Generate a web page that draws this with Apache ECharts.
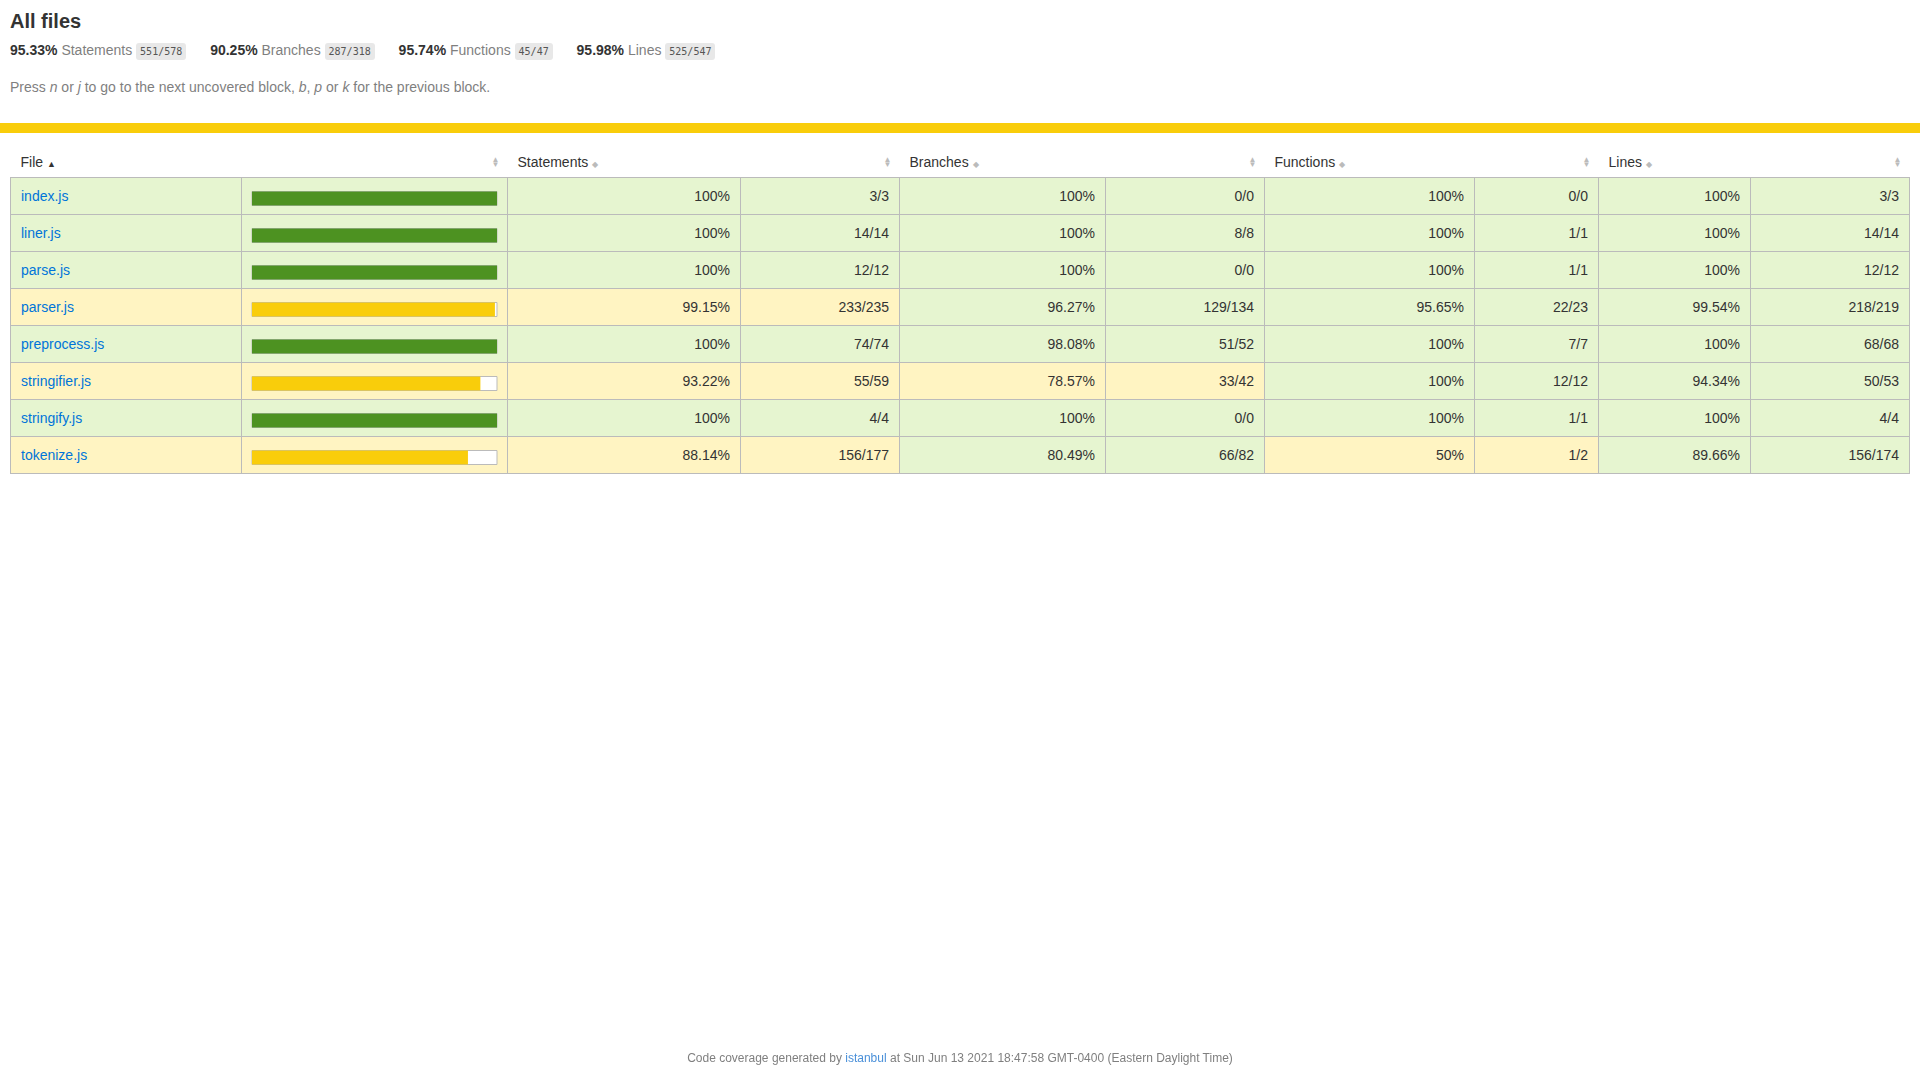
<!DOCTYPE html>
<html><head><meta charset="utf-8">
<script src="https://cdn.jsdelivr.net/npm/echarts@6/dist/echarts.min.js"></script>
<style>
body{margin:0;padding:0 10px;font-family:"Liberation Sans",Arial,sans-serif;font-size:14px;color:#333;width:1900px;height:1080px;position:relative;overflow:hidden}
h1{font-size:20px;margin:10px 0 0 0;height:22px;line-height:22px}
.sum{margin-top:9px;height:18px;line-height:18px;white-space:nowrap}
.sum span.g{margin-right:20px}
.quiet{color:#7f7f7f}
.fr{font-family:"DejaVu Sans Mono",monospace;font-size:10px;background:#e8e8e8;padding:3px 4px;border-radius:3px;color:#555}
.help{margin-top:20px;color:#7f7f7f}
.band{position:absolute;left:0;right:0;top:123px;height:10px;background:#f9cd0b}
table{position:absolute;left:10px;top:146px;border-collapse:collapse;font-size:14px;table-layout:fixed;width:1899px}
th{height:31px;font-weight:normal;text-align:left;padding:0 10px;position:relative;vertical-align:middle}
th .s{position:absolute;right:8px;top:11px;color:#bbb;font-size:8px;line-height:5px}
td{height:36px;border:1px solid #bbb;padding:0 10px;text-align:right}
td.f{text-align:left}
a{color:#0074d9;text-decoration:none}
.high{background:#e6f5d0}.medium{background:#fff4c2}
#chart{position:absolute;left:0;top:0;width:1920px;height:1080px;pointer-events:none}
.foot{position:absolute;left:0;width:1920px;top:1051px;text-align:center;font-size:12px;color:#7f7f7f}
</style></head><body>
<h1>All files</h1>
<div class="sum">
<span class="g"><b>95.33%</b> <span class="quiet">Statements</span> <span class="fr">551/578</span></span>
<span class="g"><b>90.25%</b> <span class="quiet">Branches</span> <span class="fr">287/318</span></span>
<span class="g"><b>95.74%</b> <span class="quiet">Functions</span> <span class="fr">45/47</span></span>
<span class="g"><b>95.98%</b> <span class="quiet">Lines</span> <span class="fr">525/547</span></span>
</div>
<div class="help">Press <i>n</i> or <i>j</i> to go to the next uncovered block, <i>b</i>, <i>p</i> or <i>k</i> for the previous block.</div>
<div class="band"></div>
<table id="tbl"></table>
<div id="chart"></div>
<div class="foot">Code coverage generated by <a href="#" style="color:#4a90d9">istanbul</a> at Sun Jun 13 2021 18:47:58 GMT-0400 (Eastern Daylight Time)</div>
<script>
const files = ['index.js','liner.js','parse.js','parser.js','preprocess.js','stringifier.js','stringify.js','tokenize.js'];
const stmtPct = [100,100,100,99.15,100,93.22,100,88.14];
const stmtFrac = ['3/3','14/14','12/12','233/235','74/74','55/59','4/4','156/177'];
const branchPct = [100,100,100,96.27,98.08,78.57,100,80.49];
const branchFrac = ['0/0','8/8','0/0','129/134','51/52','33/42','0/0','66/82'];
const funcPct = [100,100,100,95.65,100,100,100,50];
const funcFrac = ['0/0','1/1','1/1','22/23','7/7','12/12','1/1','1/2'];
const linePct = [100,100,100,99.54,100,94.34,100,89.66];
const lineFrac = ['3/3','14/14','12/12','218/219','68/68','50/53','4/4','156/174'];
// coverage class per cell
const stmtCls = ['high','high','high','medium','high','medium','high','medium'];
const branchCls = ['high','high','high','high','high','medium','high','high'];
const funcCls = ['high','high','high','high','high','high','high','medium'];
const lineCls = ['high','high','high','high','high','high','high','high'];

const widths = [231,266,233,159,206,159,210,124,152,159];
const arrows = '<span class="s">▲<br>▼</span>';
let html = '<colgroup>' + widths.map(w => '<col style="width:' + w + 'px">').join('') + '</colgroup>';
html += '<tr><th>File <span style="font-size:9px">▲</span></th><th>' + arrows + '</th>' +
  ['Statements','','Branches','','Functions','','Lines',''].map(t =>
    '<th>' + (t ? t + ' <span style="color:#bbb;font-size:8px">◆</span>' : arrows) + '</th>').join('') + '</tr>';
files.forEach((f, i) => {
  html += '<tr><td class="f ' + stmtCls[i] + '"><a href="#">' + f + '</a></td><td class="' + stmtCls[i] + '"></td>' +
    '<td class="' + stmtCls[i] + '">' + stmtPct[i] + '%</td><td class="' + stmtCls[i] + '">' + stmtFrac[i] + '</td>' +
    '<td class="' + branchCls[i] + '">' + branchPct[i] + '%</td><td class="' + branchCls[i] + '">' + branchFrac[i] + '</td>' +
    '<td class="' + funcCls[i] + '">' + funcPct[i] + '%</td><td class="' + funcCls[i] + '">' + funcFrac[i] + '</td>' +
    '<td class="' + lineCls[i] + '">' + linePct[i] + '%</td><td class="' + lineCls[i] + '">' + lineFrac[i] + '</td></tr>';
});
document.getElementById('tbl').innerHTML = html;

const chart = echarts.init(document.getElementById('chart'));
chart.setOption({
  animation: false,
  grid: {left: 252, width: 245, top: 180, height: 8 * 37},
  xAxis: {type: 'value', min: 0, max: 100, show: false},
  yAxis: {type: 'category', data: files, inverse: true, show: false},
  series: [{
    type: 'bar',
    barWidth: 14,
    data: stmtPct.map((v, i) => ({value: v, itemStyle: {color: stmtCls[i] === 'high' ? '#4d9221' : '#f9cd0b'}})),
    showBackground: true,
    backgroundStyle: {color: '#fff', borderColor: '#bbb', borderWidth: 1}
  }]
});
</script>
</body></html>
